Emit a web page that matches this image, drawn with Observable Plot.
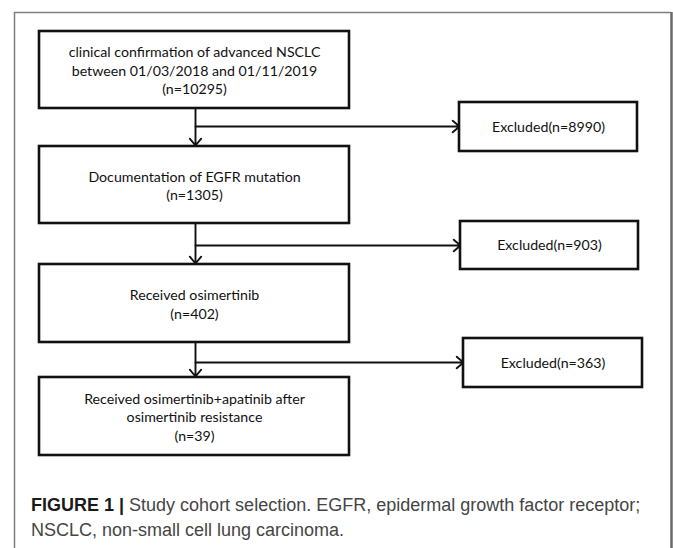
<!DOCTYPE html>
<html>
<head>
<meta charset="utf-8">
<script src="https://cdn.jsdelivr.net/npm/d3@7"></script>
<script src="https://cdn.jsdelivr.net/npm/@observablehq/plot@0.6"></script>
<style>
  html, body { margin: 0; padding: 0; background: #fff; }
  #wrap { position: relative; width: 673px; height: 548px; overflow: hidden; }
  #caption { position: absolute; left: 31px; top: 493px; width: 640px;
    font-family: "Liberation Sans", Arial, sans-serif; font-size: 18px; line-height: 25px; color: #454545; white-space: nowrap; }
  #caption b { color: #1a1a1a; }
</style>
</head>
<body>
<div id="wrap">
  <div id="chart"></div>
  <div id="caption"></div>
</div>
<script>
// ---- data ----
const stepLabels = [
  "clinical confirmation of advanced NSCLC\nbetween 01/03/2018 and 01/11/2019",
  "Documentation of EGFR mutation",
  "Received osimertinib",
  "Received osimertinib+apatinib after\nosimertinib resistance"
];
const stepN = [10295, 1305, 402, 39];
const excludedN = [8990, 903, 363];
const captionBold = "FIGURE 1 |";
const captionLines = ["Study cohort selection. EGFR, epidermal growth factor receptor;", "NSCLC, non-small cell lung carcinoma."];

// ---- layout (pixels) ----
const W = 673, H = 548;
const stepTop = [31, 146, 264, 377];
const stepBottom = [108, 223, 342, 455];
const stepLeft = 39, stepRight = 349;
const exclTop = [102, 221, 338];
const exclBottom = [151, 269, 387];
const exclLeft = [459, 460, 463];
const exclRight = [637, 638, 642];
const arrowY = [126, 245, 362];
const spineX = 195;

const steps = stepLabels.map((d, i) => ({
  label: d + "\n(n=" + stepN[i] + ")",
  x1: stepLeft, x2: stepRight, y1: stepTop[i], y2: stepBottom[i]
}));
const excluded = excludedN.map((n, i) => ({
  label: "Excluded(n=" + n + ")",
  x1: exclLeft[i], x2: exclRight[i], y1: exclTop[i], y2: exclBottom[i]
}));
const downArrows = d3.range(3).map(i => ({x1: spineX, y1: stepBottom[i], x2: spineX, y2: stepTop[i + 1] - 1}));
const sideArrows = d3.range(3).map(i => ({x1: spineX, y1: arrowY[i], x2: exclLeft[i], y2: arrowY[i]}));

const boxFont = "Lato, 'Noto Sans', sans-serif";

const plot = Plot.plot({
  width: W, height: H,
  margin: 0,
  x: {domain: [0, W], range: [0, W], axis: null},
  y: {domain: [0, H], range: [0, H], axis: null},
  style: {background: "white"},
  marks: [
    // outer figure frame
    Plot.ruleX([14], {y1: 12, y2: H, stroke: "#7d7d7d", strokeWidth: 1.5}),
    Plot.ruleX([671], {y1: 12, y2: H, stroke: "#6a6a6a", strokeWidth: 2.5}),
    Plot.ruleY([12], {x1: 14, x2: 671, stroke: "#7d7d7d", strokeWidth: 1.5}),
    // arrows
    Plot.arrow(downArrows, {x1: "x1", y1: "y1", x2: "x2", y2: "y2", stroke: "#111", strokeWidth: 1.9, headLength: 7, headAngle: 80}),
    Plot.arrow(sideArrows, {x1: "x1", y1: "y1", x2: "x2", y2: "y2", stroke: "#111", strokeWidth: 1.9, headLength: 7, headAngle: 80}),
    // boxes
    Plot.rect(steps, {x1: "x1", x2: "x2", y1: "y1", y2: "y2", fill: "white", stroke: "#111", strokeWidth: 2.6}),
    Plot.rect(excluded, {x1: "x1", x2: "x2", y1: "y1", y2: "y2", fill: "white", stroke: "#111", strokeWidth: 2.6}),
    Plot.text(steps, {x: d => (d.x1 + d.x2) / 2, y: d => (d.y1 + d.y2) / 2, text: "label",
      fontFamily: boxFont, fontSize: 14.2, lineHeight: 1.3, fill: "#111"}),
    Plot.text(excluded, {x: d => (d.x1 + d.x2) / 2, y: d => (d.y1 + d.y2) / 2, text: "label",
      fontFamily: boxFont, fontSize: 14.2, fill: "#111"})
  ]
});
document.getElementById("chart").appendChild(plot);

const cap = document.getElementById("caption");
cap.innerHTML = "<b>" + captionBold + "</b> " + captionLines[0] + "<br>" + captionLines[1];
</script>
</body>
</html>
